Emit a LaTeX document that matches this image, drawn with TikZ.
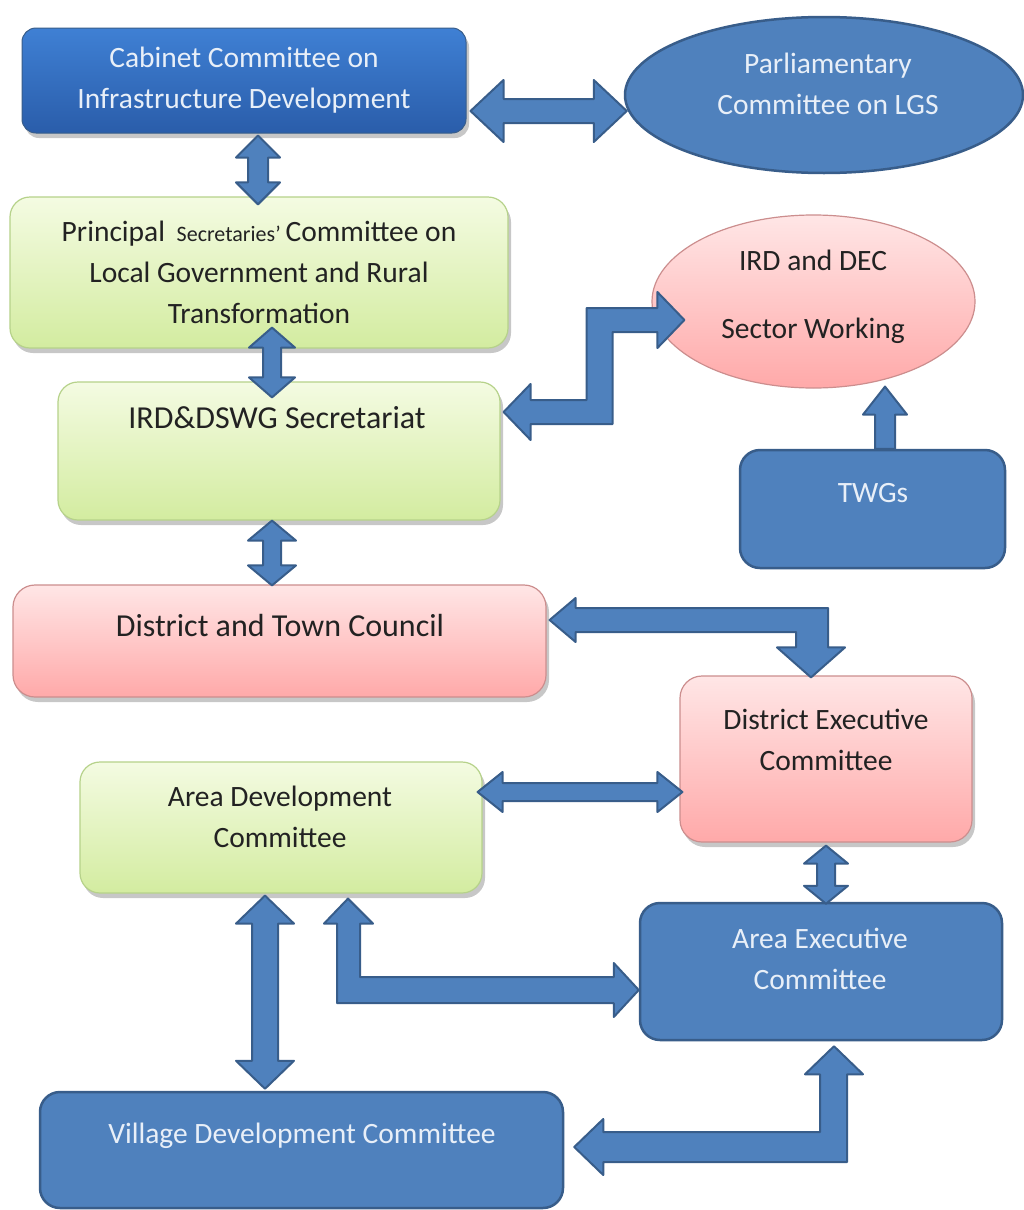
\documentclass[tikz,border=0pt]{standalone}
\usepackage{fontspec}
\setmainfont{Carlito}
\usetikzlibrary{calc,shapes.geometric,shadows}
\definecolor{arrowfill}{HTML}{4F81BD}
\definecolor{arrowline}{HTML}{385D8A}
\definecolor{bluefill}{HTML}{4F81BD}
\definecolor{blueline}{HTML}{385D8A}
\definecolor{cabtop}{HTML}{3F80D4}
\definecolor{cabbot}{HTML}{2A5DAA}
\definecolor{greentop}{HTML}{F4FBE2}
\definecolor{greenbot}{HTML}{D3ECA0}
\definecolor{greenline}{HTML}{B6D28A}
\definecolor{pinktop}{HTML}{FFE6E6}
\definecolor{pinkbot}{HTML}{FFA9A9}
\definecolor{pinkline}{HTML}{CC8E8E}
\definecolor{lighttext}{HTML}{E8EFF8}
\definecolor{darktext}{HTML}{222222}
\tikzset{
  shadowed/.style={drop shadow={shadow xshift=3pt,shadow yshift=-5pt,opacity=0.22,fill=black}},
  cabbox/.style={rectangle,rounded corners=14pt,top color=cabtop,bottom color=cabbot,draw=blueline,line width=1pt,shadowed,inner sep=0pt},
  bluebox/.style={rectangle,rounded corners=20pt,fill=bluefill,draw=blueline,line width=2.5pt,inner sep=0pt},
  greenbox/.style={rectangle,rounded corners=20pt,top color=greentop,bottom color=greenbot,draw=greenline,line width=1.2pt,shadowed,inner sep=0pt},
  pinkbox/.style={rectangle,rounded corners=22pt,top color=pinktop,bottom color=pinkbot,draw=pinkline,line width=1.2pt,shadowed,inner sep=0pt},
  blueell/.style={ellipse,fill=bluefill,draw=blueline,line width=2.5pt,inner sep=0pt},
  pinkell/.style={ellipse,top color=pinktop,bottom color=pinkbot,draw=pinkline,line width=1.2pt,inner sep=0pt},
  txt/.style={align=center,font=\fontsize{29.5}{41}\selectfont,inner sep=0pt},
  bigtxt/.style={font=\fontsize{32}{41}\selectfont},
  lighttxt/.style={txt,text=lighttext},
  darktxt/.style={txt,text=darktext},
  blockarrow/.style={fill=arrowfill,draw=arrowline,line width=2pt,line join=round}
}
% vertical double arrow: #1 top tip, #2 bottom tip, #3 shaft half, #4 head half, #5 head length
\newcommand\VDArrow[5]{\path[blockarrow] let \p1=#1, \p2=#2 in
  (\x1,\y1) -- (\x1+#4pt,\y1-#5pt) -- (\x1+#3pt,\y1-#5pt) -- (\x1+#3pt,\y2+#5pt) -- (\x1+#4pt,\y2+#5pt)
  -- (\x1,\y2) -- (\x1-#4pt,\y2+#5pt) -- (\x1-#3pt,\y2+#5pt) -- (\x1-#3pt,\y1-#5pt) -- (\x1-#4pt,\y1-#5pt) -- cycle;}
% horizontal double arrow: #1 left tip, #2 right tip
\newcommand\HDArrow[5]{\path[blockarrow] let \p1=#1, \p2=#2 in
  (\x1,\y1) -- (\x1+#5pt,\y1+#4pt) -- (\x1+#5pt,\y1+#3pt) -- (\x2-#5pt,\y1+#3pt) -- (\x2-#5pt,\y1+#4pt)
  -- (\x2,\y1) -- (\x2-#5pt,\y1-#4pt) -- (\x2-#5pt,\y1-#3pt) -- (\x1+#5pt,\y1-#3pt) -- (\x1+#5pt,\y1-#4pt) -- cycle;}
% single up arrow: #1 tip, #2 base
\newcommand\UArrow[5]{\path[blockarrow] let \p1=#1, \p2=#2 in
  (\x1,\y1) -- (\x1+#4pt,\y1-#5pt) -- (\x1+#3pt,\y1-#5pt) -- (\x1+#3pt,\y2) -- (\x1-#3pt,\y2)
  -- (\x1-#3pt,\y1-#5pt) -- (\x1-#4pt,\y1-#5pt) -- cycle;}
\begin{document}
\begin{tikzpicture}[x=1pt,y=1pt]
\useasboundingbox (0,0) rectangle (1024,-1210);
\fill[white] (0,0) rectangle (1024,-1210);

% nodes
\node[cabbox,minimum width=444pt,minimum height=105pt] (cab) at (244,-80.5) {};
\node[blueell,minimum width=398pt,minimum height=156pt] (parl) at (824,-95) {};
\node[greenbox,minimum width=498pt,minimum height=151pt] (pri) at (259,-272.5) {};
\node[greenbox,minimum width=442pt,minimum height=138pt] (ird) at (279,-451) {};
\node[pinkell,minimum width=323pt,minimum height=173pt] (sect) at (813.5,-301.5) {};
\node[bluebox,minimum width=265pt,minimum height=118pt] (twg) at (872.5,-509) {};
\node[pinkbox,minimum width=533pt,minimum height=112pt] (dtc) at (279.5,-641) {};
\node[pinkbox,minimum width=292pt,minimum height=166pt] (dec) at (826,-759) {};
\node[greenbox,minimum width=402pt,minimum height=131pt] (adc) at (281,-827.5) {};
\node[bluebox,minimum width=362pt,minimum height=137pt] (aec) at (821,-971.5) {};
\node[bluebox,minimum width=523pt,minimum height=116pt] (vdc) at (301.5,-1150) {};

% texts
\node[lighttxt] (cabT) at (244,-80.5) {Cabinet Committee on\\Infrastructure Development};
\node[lighttxt] (parlT) at (828,-84) {Parliamentary\\Committee on LGS};
\node[darktxt] (priT) at (259,-272) {Principal\, {\fontsize{22}{41}\selectfont Secretaries’}\,Committee on\\Local Government and Rural\\Transformation};
\node[darktxt,bigtxt] (irdT) at (277,-418) {IRD\&DSWG Secretariat};
\node[darktxt] (sectT) at (813,-297) {IRD and DEC\\[27pt]Sector Working};
\node[lighttxt] (twgT) at (873,-493) {TWGs};
\node[darktxt,bigtxt] (dtcT) at (280,-625) {District and Town Council};
\node[darktxt] (decT) at (826,-740) {District Executive\\Committee};
\node[darktxt] (adcT) at (280,-816.5) {Area Development\\Committee};
\node[lighttxt] (aecT) at (820,-959) {Area Executive\\Committee};
\node[lighttxt] (vdcT) at (302,-1136) {Village Development Committee};

% straight block arrows
\HDArrow{($(cab.east)+(4,-30.5)$)}{($(parl.west)+(3,-16)$)}{12}{31}{33}
\VDArrow{($(cab.south)+(14,-2)$)}{($(pri.north)+(-1,-8)$)}{10}{22}{22}
\VDArrow{($(pri.south)+(13,21)$)}{($(ird.north)+(-7,-16)$)}{9}{23}{20}
\VDArrow{($(ird.south)+(-7,0)$)}{($(dtc.north)+(-7.5,-1)$)}{9}{24}{20}
\UArrow{($(sect.south)+(71.5,2)$)}{($(twg.north)+(12.5,0)$)}{10}{22}{28}
\HDArrow{($(adc.east)+(-5,35.5)$)}{($(dec.west)+(3,-33)$)}{9}{20}{25}
\VDArrow{($(dec.south)+(0,-3)$)}{($(aec.north)+(5,-2)$)}{9}{22}{18}
\VDArrow{($(adc.south)+(-16,-2)$)}{($(vdc.north)+(-36.5,2)$)}{13}{29}{28}

% elbow block arrows
\path[blockarrow] let \p1=($(ird.east)+(3,39)$), \p2=($(sect.west)+(33,-18.5)$) in
  (\x1,\y1) -- (\x1+27pt,\y1+28pt) -- (\x1+27pt,\y1+12pt) -- (\x1+83pt,\y1+12pt) -- (\x1+83pt,\y2+12pt)
  -- (\x2-27pt,\y2+12pt) -- (\x2-27pt,\y2+28pt) -- (\x2,\y2) -- (\x2-27pt,\y2-28pt) -- (\x2-27pt,\y2-12pt)
  -- (\x1+109pt,\y2-12pt) -- (\x1+109pt,\y1-12pt) -- (\x1+27pt,\y1-12pt) -- (\x1+27pt,\y1-28pt) -- cycle;
\path[blockarrow] let \p1=($(dtc.east)+(3,21)$), \p2=($(dec.north)+(-15,-2)$) in
  (\x1,\y1) -- (\x1+26pt,\y1+22pt) -- (\x1+26pt,\y1+12pt) -- (\x2+17pt,\y1+12pt) -- (\x2+17pt,\y2+30pt)
  -- (\x2+34pt,\y2+30pt) -- (\x2,\y2) -- (\x2-34pt,\y2+30pt) -- (\x2-15pt,\y2+30pt) -- (\x2-15pt,\y1-12pt)
  -- (\x1+26pt,\y1-12pt) -- (\x1+26pt,\y1-22pt) -- cycle;
\path[blockarrow] let \p1=($(adc.south)+(67,-5)$), \p2=($(aec.west)+(0,-18.5)$) in
  (\x1,\y1) -- (\x1+25pt,\y1-25pt) -- (\x1+12pt,\y1-25pt) -- (\x1+12pt,\y2+13pt) -- (\x2-25pt,\y2+13pt)
  -- (\x2-25pt,\y2+27pt) -- (\x2,\y2) -- (\x2-25pt,\y2-27pt) -- (\x2-25pt,\y2-13pt) -- (\x1-11pt,\y2-13pt)
  -- (\x1-11pt,\y1-25pt) -- (\x1-24pt,\y1-25pt) -- cycle;
\path[blockarrow] let \p1=($(vdc.east)+(10,3)$), \p2=($(aec.south)+(13,-5)$) in
  (\x1,\y1) -- (\x1+29pt,\y1+28pt) -- (\x1+29pt,\y1+15pt) -- (\x2-14pt,\y1+15pt) -- (\x2-14pt,\y2-28pt)
  -- (\x2-29pt,\y2-28pt) -- (\x2,\y2) -- (\x2+29pt,\y2-28pt) -- (\x2+13pt,\y2-28pt) -- (\x2+13pt,\y1-15pt)
  -- (\x1+29pt,\y1-15pt) -- (\x1+29pt,\y1-28pt) -- cycle;
\end{tikzpicture}
\end{document}
